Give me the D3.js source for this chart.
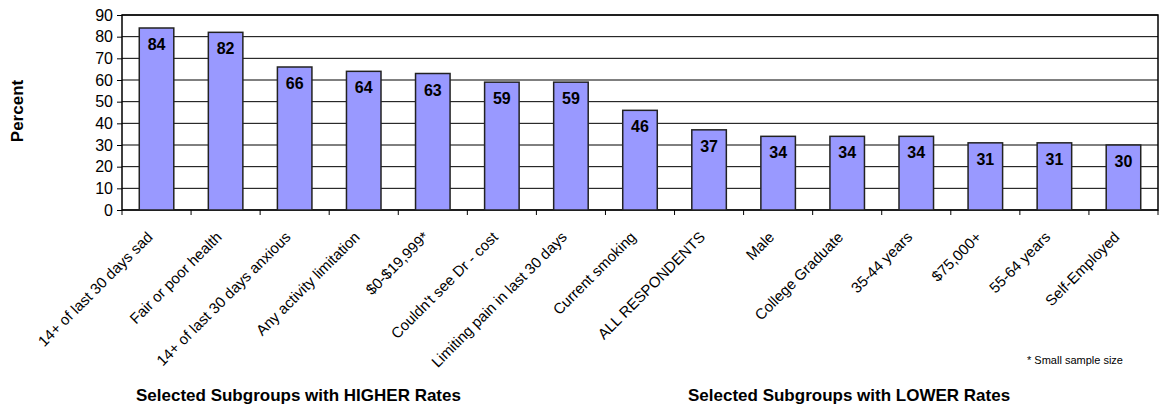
<!DOCTYPE html>
<html>
  <head>
    <script src="https://d3js.org/d3.v7.min.js"></script>
    <style>
      body { margin: 0; background: #fff; }
      text { font-family: "Liberation Sans", Arial, sans-serif; }
    </style>
  </head>
  <body>
    <div id="chart"></div>
    <script>
// Data
const categories = [
  "14+ of last 30 days sad", "Fair or poor health", "14+ of last 30 days anxious",
  "Any activity limitation", "$0-$19,999*", "Couldn't see Dr - cost",
  "Limiting pain in last 30 days", "Current smoking", "ALL RESPONDENTS",
  "Male", "College Graduate", "35-44 years", "$75,000+", "55-64 years", "Self-Employed"
];
const values = [84, 82, 66, 64, 63, 59, 59, 46, 37, 34, 34, 34, 31, 31, 30];
const yTicks = [0, 10, 20, 30, 40, 50, 60, 70, 80, 90];

const width = 1164;
const height = 407;
const marginTop = 15;
const marginRight = 6;
const marginBottom = 197;
const marginLeft = 122;

const svg = d3.select("#chart").append("svg")
  .attr("width", width)
  .attr("height", height)
  .attr("viewBox", [0, 0, width, height]);

const x = d3.scaleBand()
  .domain(categories)
  .range([marginLeft, width - marginRight])
  .paddingInner(0)
  .paddingOuter(0);

const y = d3.scaleLinear()
  .domain([0, 90])
  .range([height - marginBottom, marginTop]);

// Gridlines
svg.append("g")
  .selectAll("line")
  .data(yTicks)
  .join("line")
  .attr("x1", marginLeft)
  .attr("x2", width - marginRight)
  .attr("y1", d => y(d))
  .attr("y2", d => y(d))
  .attr("stroke", "#000")
  .attr("stroke-width", 1);

// Plot frame
svg.append("rect")
  .attr("x", marginLeft)
  .attr("y", marginTop)
  .attr("width", width - marginLeft - marginRight)
  .attr("height", height - marginBottom - marginTop)
  .attr("fill", "none")
  .attr("stroke", "#000")
  .attr("stroke-width", 1.5);

// Bars
const barW = x.bandwidth() * 0.5;
svg.append("g")
  .selectAll("rect")
  .data(values)
  .join("rect")
  .attr("x", (d, i) => x(categories[i]) + (x.bandwidth() - barW) / 2)
  .attr("y", d => y(d))
  .attr("width", barW)
  .attr("height", d => y(0) - y(d))
  .attr("fill", "#9999ff")
  .attr("stroke", "#222")
  .attr("stroke-width", 1.5);

// Value labels
svg.append("g")
  .selectAll("text")
  .data(values)
  .join("text")
  .attr("x", (d, i) => x(categories[i]) + x.bandwidth() / 2)
  .attr("y", d => y(d) + 22)
  .attr("text-anchor", "middle")
  .style("font-size", "16px")
  .style("font-weight", "bold")
  .text(d => d);

// Y axis
const yAxis = svg.append("g")
  .attr("transform", `translate(${marginLeft},0)`)
  .call(d3.axisLeft(y).tickValues(yTicks).tickSize(5).tickPadding(4));
yAxis.select(".domain").remove();
yAxis.selectAll("line").attr("stroke", "#000");
yAxis.selectAll("text")
  .style("font-size", "16px")
  .style("font-family", "'Liberation Sans', Arial, sans-serif")
  .attr("fill", "#000");

// X axis ticks at band boundaries
const bounds = categories.map(c => x(c)).concat([width - marginRight]);
svg.append("g")
  .selectAll("line")
  .data(bounds)
  .join("line")
  .attr("x1", d => d)
  .attr("x2", d => d)
  .attr("y1", y(0))
  .attr("y2", y(0) + 5)
  .attr("stroke", "#000");

// Category labels
svg.append("g")
  .selectAll("text")
  .data(categories)
  .join("text")
  .attr("transform", d => `translate(${x(d) + x.bandwidth() / 2 - 3},${y(0) + 28}) rotate(-45)`)
  .attr("text-anchor", "end")
  .style("font-size", "15px")
  .text(d => d);

// Y label
svg.append("text")
  .attr("transform", `translate(23,111) rotate(-90)`)
  .attr("text-anchor", "middle")
  .style("font-size", "17px")
  .style("font-weight", "bold")
  .text("Percent");

// Footnote
svg.append("text")
  .attr("x", 1123)
  .attr("y", 364)
  .attr("text-anchor", "end")
  .style("font-size", "11px")
  .text("* Small sample size");

// Group titles
svg.append("text")
  .attr("x", 136)
  .attr("y", 401)
  .style("font-size", "17px")
  .style("font-weight", "bold")
  .text("Selected Subgroups with HIGHER Rates");

svg.append("text")
  .attr("x", 688)
  .attr("y", 401)
  .style("font-size", "17px")
  .style("font-weight", "bold")
  .text("Selected Subgroups with LOWER Rates");
    </script>
  </body>
</html>
